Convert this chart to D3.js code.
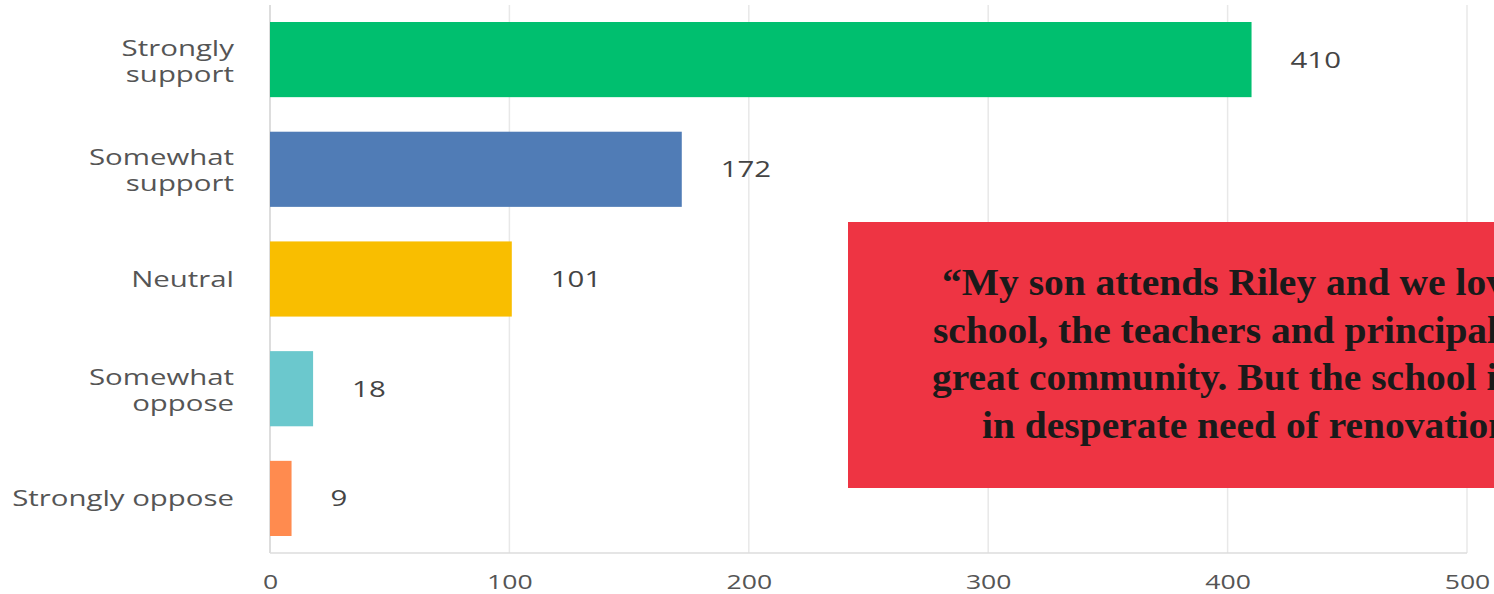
<!DOCTYPE html>
<html><head><meta charset="utf-8">
<script src="https://cdn.jsdelivr.net/npm/d3@7"></script>
<style>
html,body{margin:0;padding:0;background:#fff;overflow:hidden}
svg{display:block}
</style></head>
<body>
<svg id="chart" width="1494" height="594"></svg>
<script>
const categories = [["Strongly","support"],["Somewhat","support"],["Neutral"],["Somewhat","oppose"],["Strongly oppose"]];
const values = [410, 172, 101, 18, 9];
const colors = ["#00bf6f", "#507cb6", "#f9be00", "#6bc8cd", "#ff8b4f"];
const tickValues = [0, 100, 200, 300, 400, 500];
const quoteLines = ["\u201CMy son attends Riley and we love the", "school, the teachers and principal and", "great community. But the school is", "in desperate need of renovation.\u201D"];

const svg = d3.select("#chart");
const keys = categories.map((c,i)=>i);
const x = d3.scaleLinear().domain([0,500]).range([270,1467]);
const y = d3.scaleBand().domain(keys).range([5,553]).paddingInner(0.315).paddingOuter(0.155);
const font = "'Open Sans', sans-serif";
const txt = "#555555";
const sx = 1.4; // horizontal stretch of the chart text

// grid
svg.append("g").selectAll("line").data(tickValues).join("line")
  .attr("x1", d=>x(d)).attr("x2", d=>x(d)).attr("y1",5).attr("y2",553)
  .attr("stroke", d=> d===0 ? "#d2d2d2" : "#e8e8e8").attr("stroke-width",1.5);
svg.append("line").attr("x1",x(0)).attr("x2",x(500)).attr("y1",553).attr("y2",553)
  .attr("stroke","#dcdcdc").attr("stroke-width",1.5);

// axis
const ax = svg.append("g").attr("transform","translate(0,589)")
  .call(d3.axisBottom(x).tickValues(tickValues).tickSize(0).tickPadding(0));
ax.select(".domain").remove();
ax.selectAll("text").attr("font-family",font).attr("font-size",20).attr("fill",txt)
  .attr("dy","0").attr("y",0).attr("transform",`scale(1.33,1)`);

// bars
svg.append("g").selectAll("rect").data(values).join("rect")
  .attr("x", x(0)).attr("y",(d,i)=>y(i)).attr("width", d=>x(d)-x(0)).attr("height", y.bandwidth())
  .attr("fill",(d,i)=>colors[i]);

// value labels
svg.append("g").selectAll("g").data(values).join("g")
  .attr("transform",(d,i)=>`translate(${x(d)+39},${y(i)+y.bandwidth()/2+8}) scale(${sx},1)`)
  .append("text").attr("font-family",font).attr("font-size",21).attr("fill","#444").text(d=>d);

// category labels
svg.append("g").selectAll("g").data(categories).join("g")
  .attr("transform",(d,i)=>`translate(234,${y(i)+y.bandwidth()/2}) scale(${sx},1)`)
  .each(function(d){
    const t = d3.select(this).append("text").attr("text-anchor","end")
      .attr("font-family",font).attr("font-size",21).attr("fill",txt);
    if (d.length === 1) {
      t.append("tspan").attr("x",0).attr("y",7.5).text(d[0]);
    } else {
      d.forEach((s,j)=>t.append("tspan").attr("x",0).attr("y",-4 + j*26).text(s));
    }
  });

// quote box
svg.append("rect").attr("x",848).attr("y",222).attr("width",850).attr("height",266).attr("fill","#ee3443");
const qs = 1.04;
const quoteStarts = [942, 933, 932, 982];
svg.append("g").attr("transform",`scale(${qs},1)`).selectAll("text").data(quoteLines).join("text")
  .attr("x",(d,i)=>quoteStarts[i]/qs).attr("y",(d,i)=>295+i*47.7).attr("text-anchor","start")
  .attr("font-family","'Liberation Serif', 'Times New Roman', serif").attr("font-weight","bold")
  .attr("font-size",38).attr("fill","#1a1a1a").text(d=>d);
</script>
</body></html>
